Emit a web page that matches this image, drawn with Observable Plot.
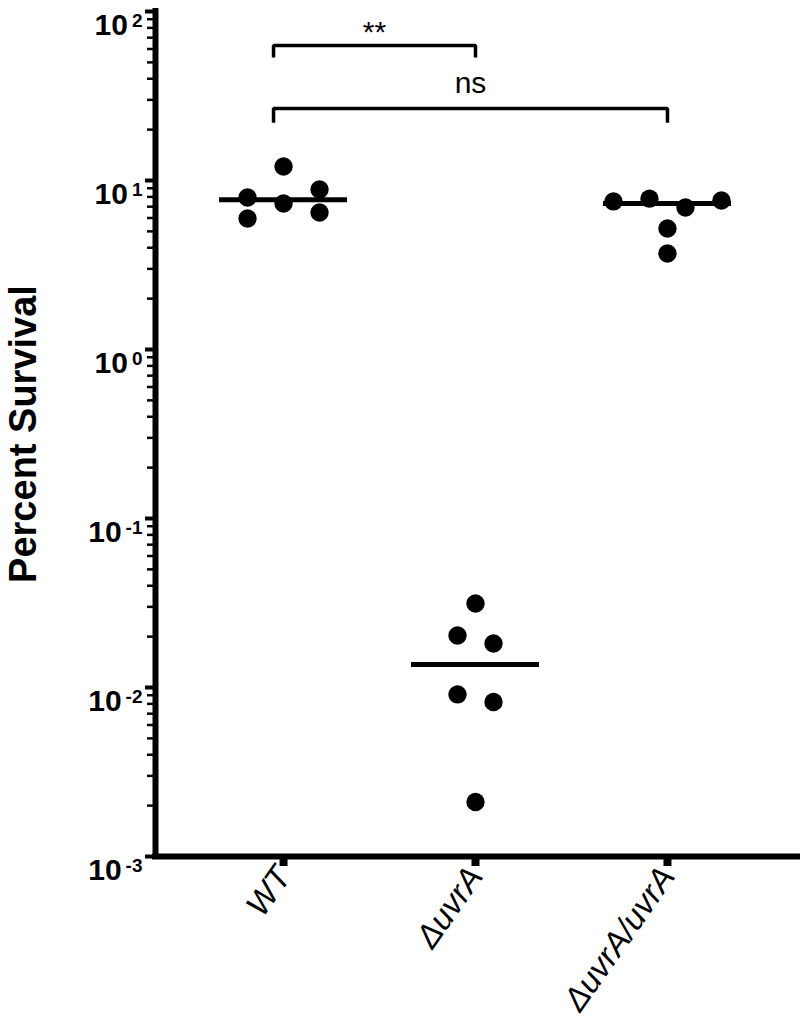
<!DOCTYPE html>
<html><head><meta charset="utf-8">
<script src="https://cdn.jsdelivr.net/npm/d3@7"></script>
<script src="https://cdn.jsdelivr.net/npm/@observablehq/plot@0.6"></script>
<style>
body{margin:0;background:#fff}
#chart svg{font-family:"Liberation Sans",Arial,sans-serif;background:#fff}
</style></head><body><div id="chart"></div>
<script>
// ---- data ----
const groups = ["WT", "ΔuvrA", "ΔuvrA/uvrA"];
const wtValues = [12.1, 7.93, 7.31, 8.85, 5.96, 6.47];
const uvrAValues = [0.0314, 0.0203, 0.0182, 0.0091, 0.0082, 0.0021];
const complementValues = [7.52, 7.81, 6.92, 7.62, 5.20, 3.70];
const medianValues = [7.7, 0.0137, 7.3];
const yTicks = [1e-3, 1e-2, 1e-1, 1, 10, 100];
const yTickExponents = ["-3", "-2", "-1", "0", "1", "2"];
const compFrom = ["WT", "WT"];
const compTo = ["ΔuvrA", "ΔuvrA/uvrA"];
const compLabels = ["**", "ns"];
const compBarY = [63, 26.7];
const compLegY = [53.5, 22];
const compTextY = [75.7, 37.3];
const yTitle = "Percent Survival";

// ---- layout ----
const W = 800, H = 1029, mL = 155, mR = 0, mT = 11, mB = 173;
const xDomain = [-0.667, 2.693];
const yDomain = [1e-3, 100];
const pxPerStep = (W - mL - mR) / (xDomain[1] - xDomain[0]);
const pxPerDecade = (H - mT - mB) / Math.log10(yDomain[1] / yDomain[0]);

// Prism-like column scatter: rows of close points spread symmetrically
function columnScatter(values, gi) {
  const S = 36, rowGap = 19, minDist = 20.5;
  const pts = values.map((v, i) => ({v, i, py: -Math.log10(v) * pxPerDecade}));
  const sorted = [...pts].sort((a, b) => a.py - b.py);
  const rows = [];
  for (const p of sorted) {
    const r = rows[rows.length - 1];
    if (r && p.py - r[0].py < rowGap) r.push(p); else rows.push([p]);
  }
  const placed = [];
  for (const row of rows) {
    row.sort((a, b) => a.i - b.i);
    const n = row.length;
    let s = S, offs;
    for (let k = 0; k < 4; k++) {
      offs = row.map((p, j) => (j - (n - 1) / 2) * s);
      const hit = row.some((p, j) => placed.some(q => Math.hypot(q.ox - offs[j], q.py - p.py) < minDist));
      if (!hit) break;
      s *= 2;
    }
    row.forEach((p, j) => { p.ox = offs[j]; placed.push(p); });
  }
  return pts.map(p => ({group: groups[gi], value: p.v, x: gi + p.ox / pxPerStep}));
}

const points = [
  ...columnScatter(wtValues, 0),
  ...columnScatter(uvrAValues, 1),
  ...columnScatter(complementValues, 2)
];
const medians = medianValues.map((v, i) => ({gi: i, value: v}));
const halfLine = 64 / pxPerStep;
const legInset = 10 / pxPerStep;

const minorTicks = [];
for (let e = -3; e < 2; e++) for (let k = 2; k <= 9; k++) minorTicks.push(k * Math.pow(10, e));

const brackets = [];
const bracketText = [];
compLabels.forEach((lab, i) => {
  const a = groups.indexOf(compFrom[i]) - legInset, b = groups.indexOf(compTo[i]);
  brackets.push({k: i, x: a, y: compLegY[i]}, {k: i, x: a, y: compBarY[i]}, {k: i, x: b, y: compBarY[i]}, {k: i, x: b, y: compLegY[i]});
  bracketText.push({x: (a + b) / 2, y: compTextY[i], text: lab});
});

const chart = Plot.plot({
  width: W, height: H,
  marginLeft: mL, marginRight: mR, marginTop: mT, marginBottom: mB,
  style: {fontFamily: "Liberation Sans, Arial, sans-serif", background: "#fff"},
  x: {type: "linear", domain: xDomain},
  y: {type: "log", domain: yDomain},
  marks: [
    Plot.axisY({ticks: minorTicks, tickSize: 8, strokeWidth: 2.5, tickFormat: () => "", label: null}),
    Plot.axisY({ticks: yTicks, tickSize: 10, tickPadding: 3, strokeWidth: 4,
      tickFormat: d => "10|" + yTickExponents[yTicks.indexOf(d)],
      fontSize: 30, fontWeight: "bold", label: null}),
    Plot.axisX({ticks: [0, 1, 2], tickFormat: i => groups[i], tickRotate: -55, tickSize: 10, tickPadding: 4,
      strokeWidth: 8, fontSize: 33, fontStyle: "italic", label: null}),
    Plot.ruleX([xDomain[0]], {strokeWidth: 6, strokeLinecap: "square"}),
    Plot.ruleY([yDomain[0]], {strokeWidth: 6, strokeLinecap: "square"}),
    Plot.ruleY(medians, {x1: d => d.gi - halfLine, x2: d => d.gi + halfLine, y: "value", strokeWidth: 5}),
    Plot.dot(points, {x: "x", y: "value", r: 9.2, fill: "black", stroke: "none"}),
    Plot.line(brackets, {x: "x", y: "y", z: "k", strokeWidth: 3.5, strokeLinejoin: "miter", strokeLinecap: "butt"}),
    Plot.text(bracketText, {x: "x", y: "y", text: "text", fontSize: 30}),
    Plot.text([yTitle], {frameAnchor: "left", textAnchor: "middle", rotate: -90, dx: -132, fontSize: 38, fontWeight: "bold"})
  ]
});

// superscript exponents on y tick labels
chart.querySelectorAll('g[aria-label="y-axis tick label"] text').forEach(t => {
  const s = t.textContent;
  if (!s.includes("|")) return;
  const [base, exp] = s.split("|");
  t.textContent = base;
  t.setAttribute("dy", "0.46em");
  const ts = document.createElementNS("http://www.w3.org/2000/svg", "tspan");
  ts.setAttribute("dx", "4");
  ts.setAttribute("dy", "-8");
  ts.setAttribute("font-size", "19");
  ts.textContent = exp;
  t.appendChild(ts);
});

document.getElementById("chart").appendChild(chart);
</script></body></html>
